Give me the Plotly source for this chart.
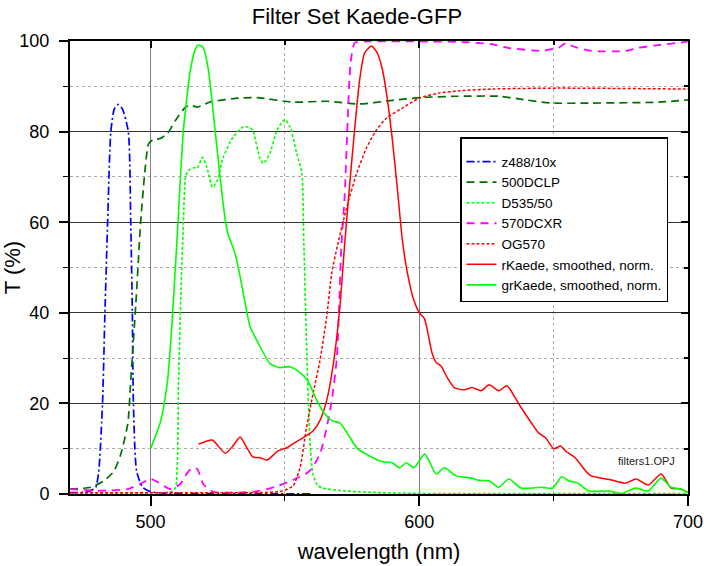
import plotly.graph_objects as go

# Transmission / emission spectra, wavelength in nm, T in %
wl_z488 = [470, 475, 478, 479.6, 480.7, 482.1, 483, 484, 485.2, 486.5, 488, 489.5,
           491.7, 492.6, 493.2, 493.6, 494.8, 497, 500, 505, 520, 560]
t_z488 = [0.3, 0.4, 0.8, 1.5, 5, 20, 40, 60, 80, 85, 86, 85,
          80, 60, 40, 20, 5, 1.5, 0.5, 0.2, 0.1, 0.05]

wl_500dclp = [470, 477.8, 482.6, 486.3, 488.9, 491.5, 492.6, 494.5, 496.3, 498, 499.3, 501,
              503.7, 506.3, 509.3, 513, 515, 517.4, 522, 533, 539.6, 553, 565.5, 577.8,
              590, 600, 613.7, 629.6, 639.6, 649, 664, 689, 700]
t_500dclp = [1.1, 1.5, 2.9, 5, 8.8, 15.5, 25, 42, 60, 72, 77.4, 78.2,
             78.5, 79.6, 82.5, 85.4, 85.8, 85.4, 86.5, 87.4, 87.5, 86.5, 86.7, 86.1,
             86.9, 87.5, 87.8, 87.8, 87, 86.3, 86.3, 86.5, 87]

wl_d535 = [470, 490, 500, 505, 508, 509.3, 510.4, 511.3, 512.2, 513, 514, 516, 517.4,
           519.3, 521, 523, 524.8, 527, 530.7, 534.4, 536.5, 538, 540.7, 541.9, 544.4,
           547, 550, 551.9, 554.4, 556.3, 557, 558, 559.3, 560.4, 562, 564, 573, 590, 700]
t_d535 = [0.1, 0.1, 0.2, 0.3, 0.6, 1.5, 25, 45, 60, 70, 71.4, 72, 72,
          74.3, 72, 67.7, 69.2, 74.3, 78.8, 81, 81, 80.3, 74, 73, 75.2,
          80.3, 82.7, 81, 75.2, 70.8, 56, 33.8, 11.7, 4.4, 2, 1.3, 0.66, 0.2, 0.1]

wl_570dcxr = [470, 475, 479, 485, 491.5, 496, 500, 503, 507.4, 511, 513.5, 515.6, 517.4,
              519.6, 523.3, 532, 540.7, 547.4, 553, 559, 563, 565.5, 567.4, 569.3, 571,
              572.2, 573.3, 574.4, 576, 580, 600, 614.8, 627, 633, 645.6, 649, 651.8,
              653.5, 655, 656.5, 659, 664, 676.7, 681.5, 689, 699, 700]
t_570dcxr = [1.1, 0.9, 0.7, 0.8, 1.1, 2.2, 3.3, 2.5, 1.1, 2.2, 4.5, 5.8, 5.5,
             2.2, 0.5, 0.3, 0.7, 1.8, 3.1, 5, 8.8, 14.6, 20.6, 30, 55,
             65.5, 81.9, 95, 99.6, 99.9, 99.9, 99.8, 99.3, 98.5, 97.8, 98.2, 98.5,
             99.2, 99.6, 99, 98.5, 97.8, 97.8, 98.5, 99.1, 99.8, 100]

wl_og570 = [470, 500, 530, 540.7, 549, 553, 555.6, 558, 560.4, 563, 565.5, 567.4, 569.6,
            573.3, 576.7, 580.4, 584, 587.8, 593.7, 600, 607.4, 614.8, 627, 651.8, 699, 700]
t_og570 = [0.3, 0.3, 0.3, 0.3, 0.66, 1.8, 5.8, 14.6, 22, 29.4, 39, 48.7, 55,
           64, 70.8, 76.5, 80.3, 83, 85.2, 87.4, 88.5, 89, 89.4, 89.6, 89.4, 89.4]

wl_rkaede = [517.8, 520.5, 523, 527.8, 530.5, 533.3, 536, 538, 540.7, 543.3, 547.4, 550.7,
             553.5, 556.7, 560.4, 563, 565.5, 567.8, 570.4, 572.2, 574, 575.9, 577.8, 579.6,
             582.2, 584.4, 586.3, 588, 590, 591.9, 593.7, 595.6, 598, 600, 601.9, 604.8,
             606.3, 608, 610.4, 613, 616.7, 619.6, 623, 626, 629.6, 632.6, 637, 641.9,
             644.4, 647, 650, 652.6, 654.4, 658, 661.9, 664, 667.8, 671.5, 676.7, 680.7,
             685.2, 690, 693.7, 697.4, 700]
t_rkaede = [11, 11.6, 11.9, 9, 10.5, 12.6, 10, 8.2, 8, 7.5, 9.5, 10.2,
            11.3, 12.4, 13.9, 16.2, 20.6, 27.9, 41, 55, 67.7, 80.3, 91.4, 97.3,
            98.9, 97.3, 93.6, 87.6, 78, 67, 56, 48.7, 42.7, 40, 38.7, 31,
            29, 28.3, 25.7, 23.5, 23, 23.5, 22.8, 24.1, 22.8, 23.9, 19.9, 15.5,
            13.5, 12.4, 10, 10.6, 9.5, 8, 5.1, 4, 3.5, 3.1, 2.4, 3.3,
            2, 4.4, 1.3, 1.1, 0.3]

wl_grkaede = [500, 503.7, 506.3, 508, 510, 512.2, 514.8, 516.5, 517.8, 519.6, 521.5, 524,
              526.7, 528.5, 531.5, 533.3, 535, 537, 540, 544.4, 548, 551.9, 555.6, 558.5,
              561.9, 564.8, 567.4, 570.4, 573.3, 577, 581.5, 586.3, 590, 592.6, 595.2, 598,
              601.9, 603.5, 606.3, 609.3, 613.7, 619.6, 622, 626, 629.6, 633.3, 638, 645.6,
              649.6, 653, 655.6, 659, 663, 670.4, 675.2, 680.4, 685.2, 690, 693.7, 697.4, 700]
t_grkaede = [10, 16, 25, 38, 58, 80.3, 93.6, 98, 99.1, 98.5, 93.6, 80.3,
             65.5, 58, 53, 48, 42.7, 37, 33.4, 28.8, 27.9, 28.1, 26.8, 25,
             20.6, 17.7, 16.2, 15.7, 13.3, 10, 8.4, 7.1, 6.9, 5.8, 6.9, 5.8,
             8.8, 7.5, 4.4, 5.8, 4, 3.5, 3, 2.9, 1.5, 3.3, 1.3, 1.5,
             1.3, 3.8, 2.9, 2.4, 0.66, 0.66, 0.1, 1.3, 0.66, 3.5, 1.5, 1.1, 0.3]

x_ticks = [500, 600, 700]
y_ticks = [0, 20, 40, 60, 80, 100]

FONT = "Liberation Sans, Arial, sans-serif"

series = [
    ("z488/10x", wl_z488, t_z488, "#0000ff", "8px,3px,2px,3px", 1.7),
    ("500DCLP", wl_500dclp, t_500dclp, "#007000", "8px,5px", 1.7),
    ("D535/50", wl_d535, t_d535, "#00ff00", "3px,2px", 1.6),
    ("570DCXR", wl_570dcxr, t_570dcxr, "#ff00ff", "8px,6px", 1.8),
    ("OG570", wl_og570, t_og570, "#ff0000", "3px,2px", 1.5),
    ("rKaede, smoothed, norm.", wl_rkaede, t_rkaede, "#ff0000", "solid", 1.5),
    ("grKaede, smoothed, norm.", wl_grkaede, t_grkaede, "#00ff00", "solid", 1.6),
]

fig = go.Figure()
for name, x, y, color, dash, width in series:
    fig.add_trace(go.Scatter(
        x=x, y=y, name=name, mode="lines",
        line=dict(color=color, dash=dash, width=width, shape="spline", smoothing=0.6),
    ))

# empty trace so the mirrored top/right frame axes get drawn
fig.add_trace(go.Scatter(x=[], y=[], xaxis="x2", yaxis="y2", showlegend=False,
                         hoverinfo="skip"))

fig.add_annotation(x=684.5, y=7.2, xref="x", yref="y", text="filters1.OPJ",
                   showarrow=False, font=dict(family=FONT, size=11, color="#222222"))

fig.update_layout(
    width=704, height=566,
    margin=dict(l=70, r=16, t=41, b=72),
    paper_bgcolor="white", plot_bgcolor="white",
    font=dict(family=FONT, color="black"),
    title=dict(text="Filter Set Kaede-GFP", x=0.507, xanchor="center",
               y=1 - 16 / 566, yanchor="middle", yref="container",
               font=dict(family=FONT, size=22, color="black")),
    showlegend=True,
    legend=dict(x=(460 - 70) / 618, y=(494 - 137) / 453, xanchor="left", yanchor="top",
                bgcolor="white", bordercolor="black", borderwidth=1.5,
                font=dict(family=FONT, size=13.5, color="black"),
                title=dict(text="&nbsp;", font=dict(size=6)),
                itemwidth=30, tracegroupgap=0),
    xaxis=dict(
        range=[470, 700], tickvals=x_ticks, ticktext=[str(v) for v in x_ticks],
        automargin=False,
        ticks="outside", ticklen=10, tickwidth=1.5, tickcolor="black",
        showline=True, linecolor="black", linewidth=2,
        showgrid=True, gridcolor="#808080", gridwidth=1,
        zeroline=False,
        tickfont=dict(family=FONT, size=18, color="black"),
        title=dict(text="wavelength (nm)", standoff=13,
                   font=dict(family=FONT, size=22, color="black")),
        minor=dict(tickvals=[550, 650], ticks="outside", ticklen=5, tickwidth=1.2,
                   tickcolor="black", showgrid=True, gridcolor="#aaaaaa",
                   griddash="dot", gridwidth=1),
    ),
    yaxis=dict(
        range=[0, 100], tickvals=y_ticks, ticktext=[str(v) for v in y_ticks],
        automargin=False,
        ticks="outside", ticklen=9, tickwidth=1.5, tickcolor="black",
        ticklabelstandoff=6,
        showline=True, linecolor="black", linewidth=2,
        showgrid=True, gridcolor="#333333", gridwidth=1,
        zeroline=False,
        tickfont=dict(family=FONT, size=18, color="black"),
        title=dict(text="T (%)", standoff=0,
                   font=dict(family=FONT, size=22, color="black")),
        minor=dict(tickvals=[10, 30, 50, 70, 90], ticks="outside", ticklen=5,
                   tickwidth=1.2, tickcolor="black", showgrid=True,
                   gridcolor="#aaaaaa", griddash="dot", gridwidth=1),
    ),
    xaxis2=dict(
        overlaying="x", side="top", range=[470, 700], tickvals=x_ticks,
        automargin=False,
        showticklabels=False, ticks="inside", ticklen=7, tickwidth=1.5,
        tickcolor="black", showline=True, linecolor="black", linewidth=2,
        showgrid=False, zeroline=False,
        minor=dict(tickvals=[550, 650], ticks="inside", ticklen=4, tickcolor="black"),
    ),
    yaxis2=dict(
        overlaying="y", side="right", range=[0, 100], tickvals=y_ticks,
        automargin=False,
        showticklabels=False, ticks="inside", ticklen=7, tickwidth=1.5,
        tickcolor="black", showline=True, linecolor="black", linewidth=2,
        showgrid=False, zeroline=False,
        minor=dict(tickvals=[10, 30, 50, 70, 90], ticks="inside", ticklen=4,
                   tickcolor="black"),
    ),
)

fig.write_html("out.html")
